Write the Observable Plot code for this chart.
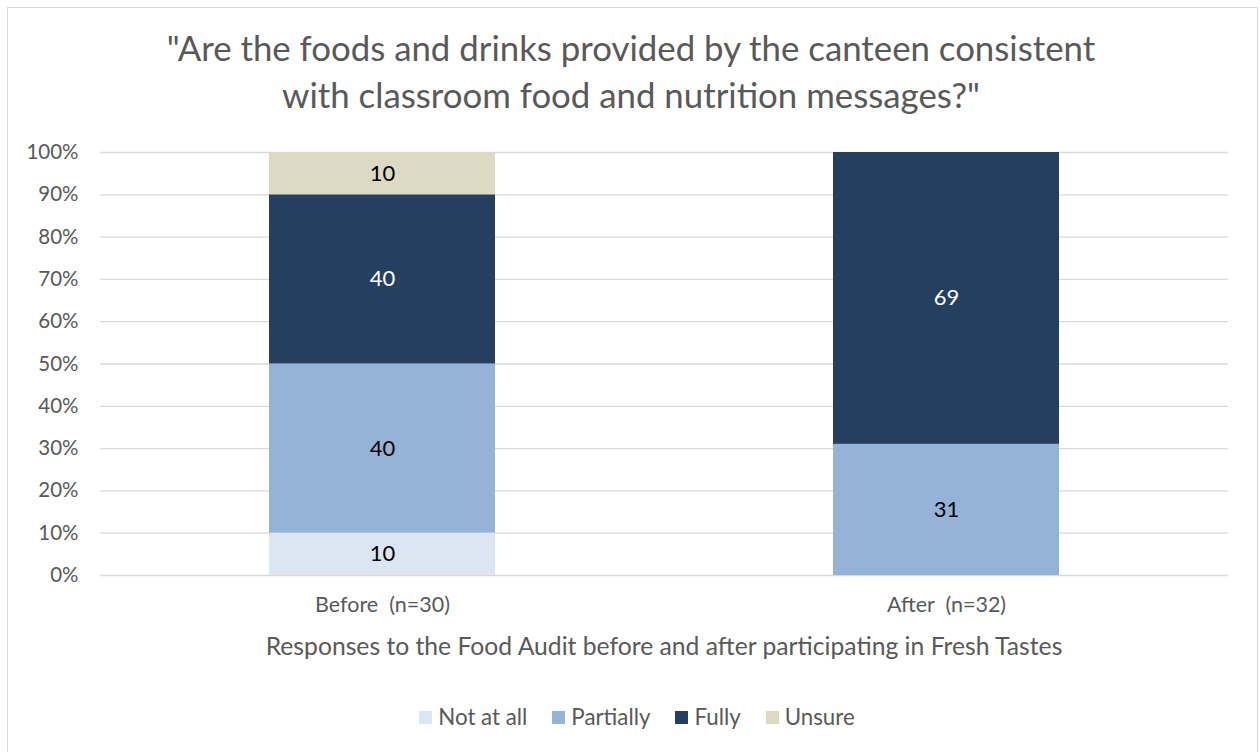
<!DOCTYPE html>
<html>
<head>
<meta charset="utf-8">
<script src="https://cdn.jsdelivr.net/npm/d3@7"></script>
<script src="https://cdn.jsdelivr.net/npm/@observablehq/plot@0.6"></script>
<style>
  html, body { margin: 0; padding: 0; background: #fff; }
  body { width: 1260px; height: 752px; position: relative; overflow: hidden; font-family: Lato, "Open Sans", sans-serif; color: #595959; }
  #frame { position: absolute; left: 7px; top: 7px; width: 1251px; height: 760px; border: 1.5px solid #d9d9d9; box-sizing: border-box; }
  #title { position: absolute; left: 0; top: 24px; width: 1262px; text-align: center; font-size: 34.8px; line-height: 47px; color: #595959; }
  #chart { position: absolute; left: 0; top: 130px; }
  #chart svg text { white-space: pre; }
  #xtitle { position: absolute; left: 100px; top: 634px; width: 1128px; text-align: center; font-size: 24.7px; line-height: 24.5px; }
  #legend { position: absolute; left: 0; top: 705px; width: 1274px; display: flex; justify-content: center; font-size: 22.3px; line-height: 24px; }
  .item { display: flex; align-items: center; margin: 0 12.5px; }
  .sw { width: 13px; height: 13px; margin-right: 6px; }
</style>
</head>
<body>
<div id="frame"></div>
<div id="title"></div>
<div id="chart"></div>
<div id="xtitle"></div>
<div id="legend"></div>
<script>
const titleLines = ["\"Are the foods and drinks provided by the canteen consistent", "with classroom food and nutrition messages?\""];
const xAxisTitle = "Responses to the Food Audit before and after participating in Fresh Tastes";
const categories = ["Before  (n=30)", "After  (n=32)"];
const responses = ["Not at all", "Partially", "Fully", "Unsure"];
const colors = ["#dce6f2", "#95b3d7", "#243f60", "#ddd9c3"];
const beforeValues = [10, 40, 40, 10];
const afterValues = [0, 31, 69, 0];
const yTicks = [0, 10, 20, 30, 40, 50, 60, 70, 80, 90, 100];

const seriesByCategory = [beforeValues, afterValues];
const data = [];
categories.forEach((c, i) => {
  responses.forEach((r, j) => {
    data.push({category: c, response: r, value: seriesByCategory[i][j]});
  });
});

document.getElementById("title").innerHTML = titleLines.map(t => `<div>${t.replace(/&/g,"&amp;").replace(/</g,"&lt;")}</div>`).join("");
document.getElementById("xtitle").textContent = xAxisTitle;

const legend = document.getElementById("legend");
responses.forEach((r, i) => {
  const it = document.createElement("div");
  it.className = "item";
  const sw = document.createElement("span");
  sw.className = "sw";
  sw.style.background = colors[i];
  const tx = document.createElement("span");
  tx.textContent = r;
  it.appendChild(sw); it.appendChild(tx);
  legend.appendChild(it);
});

const stackOpts = {x: "category", y: "value", z: "response", order: responses};
const darkLabel = d => d.value > 0 && d.response !== "Fully" ? String(d.value) : null;
const lightLabel = d => d.value > 0 && d.response === "Fully" ? String(d.value) : null;

const chart = Plot.plot({
  width: 1260,
  height: 540,
  marginTop: 22,
  marginBottom: 95,
  marginLeft: 100,
  marginRight: 32,
  style: {fontFamily: "Lato, sans-serif", background: "transparent", overflow: "visible"},
  x: {domain: categories, paddingInner: 0.6, paddingOuter: 0.3, label: null},
  y: {domain: [0, 100], label: null},
  color: {domain: responses, range: colors},
  marks: [
    Plot.gridY(yTicks, {stroke: "#d9d9d9", strokeOpacity: 1, strokeWidth: 1.3}),
    Plot.barY(data, {x: "category", y: "value", fill: "response", z: "response", order: responses}),
    Plot.text(data, Plot.stackY({...stackOpts, text: darkLabel, fill: "black", fontSize: 22})),
    Plot.text(data, Plot.stackY({...stackOpts, text: lightLabel, fill: "white", fontSize: 22})),
    Plot.axisY({ticks: yTicks, tickSize: 0, tickPadding: 22, tickFormat: d => d + "%", fontSize: 20.5, fill: "#595959", label: null}),
    Plot.axisX({tickSize: 0, tickPadding: 21, fontSize: 21.5, fill: "#595959", label: null})
  ]
});
document.getElementById("chart").appendChild(chart);
</script>
</body>
</html>
